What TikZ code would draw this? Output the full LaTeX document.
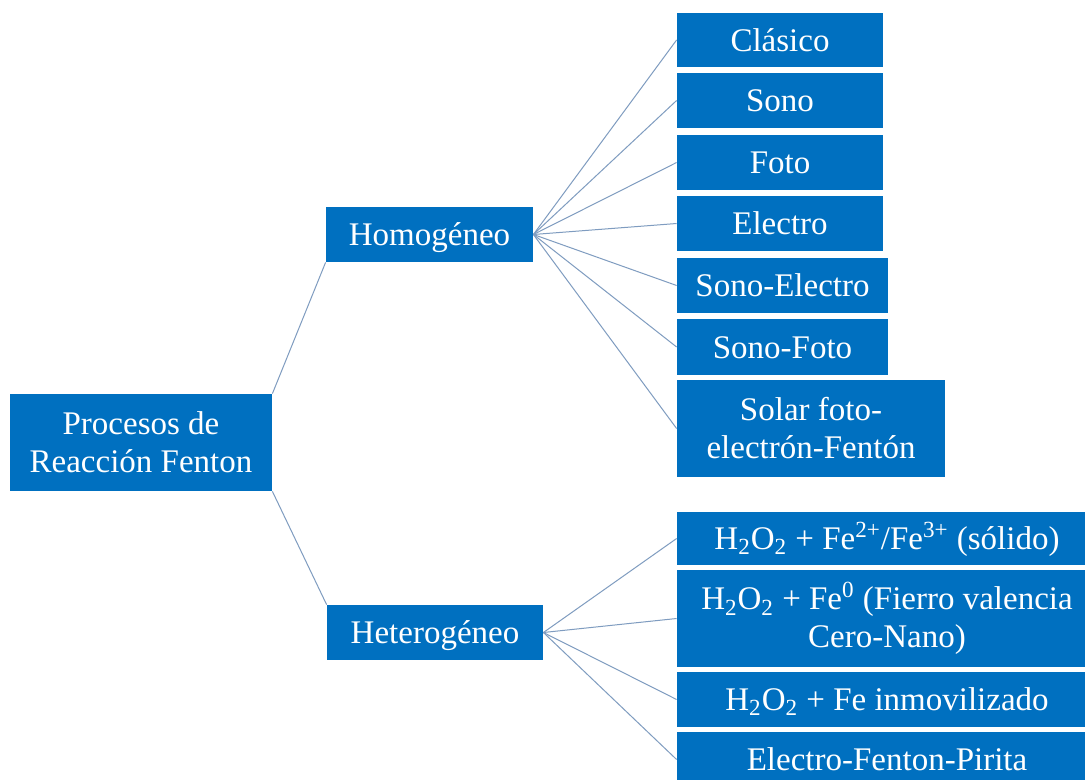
\documentclass[tikz,border=0pt]{standalone}
\usepackage{fontspec}
\setmainfont{Liberation Serif}
\definecolor{boxblue}{HTML}{0070C0}
\definecolor{linkblue}{HTML}{7F9CC0}
\begin{document}
\begin{tikzpicture}[x=0.5pt,y=-0.5pt,
  box/.style={fill=boxblue, text=white, inner sep=0pt, align=center,
    font=\fontsize{16.5}{19}\selectfont},
  oneline/.style={box, text height=11.2pt, text depth=0pt},
  link/.style={draw=linkblue, line width=0.5pt}]
\path[use as bounding box, clip] (0,0) rectangle (1085,780);
\fill[white] (0,0) rectangle (1085,780);
% level 0
\node[box, minimum width=131pt, minimum height=48.5pt] (root) at (141,442.5) {Procesos de\\Reacción Fenton};
% level 1
\node[oneline, minimum width=103.5pt, minimum height=27.5pt] (homo) at (429.5,234.5) {Homogéneo};
\node[oneline, minimum width=108pt, minimum height=27.5pt] (hete) at (435,632.5) {Heterogéneo};
% homogeneous children
\node[oneline, minimum width=103pt, minimum height=27pt] (c1) at (780,40) {Clásico};
\node[oneline, minimum width=103pt, minimum height=27.5pt] (c2) at (780,100.5) {Sono};
\node[oneline, minimum width=103pt, minimum height=27.5pt] (c3) at (780,162.5) {Foto};
\node[oneline, minimum width=103pt, minimum height=27.5pt] (c4) at (780,223.5) {Electro};
\node[oneline, minimum width=105.5pt, minimum height=27.5pt] (c5) at (782.5,285.5) {Sono-Electro};
\node[oneline, minimum width=105.5pt, minimum height=28pt] (c6) at (782.5,347) {Sono-Foto};
\node[box, minimum width=134pt, minimum height=48.5pt] (c7) at (811,428.5) {Solar foto-\\electrón-Fentón};
% heterogeneous children
\node[oneline, minimum width=210pt, minimum height=26.5pt] (d1) at (887,538.5) {H\textsubscript{2}O\textsubscript{2} + Fe\textsuperscript{2+}/Fe\textsuperscript{3+} (sólido)};
\node[box, minimum width=210pt, minimum height=48.5pt] (d2) at (887,618.5) {H\textsubscript{2}O\textsubscript{2} + Fe\textsuperscript{0} (Fierro valencia\\Cero-Nano)};
\node[oneline, minimum width=210pt, minimum height=27.5pt] (d3) at (887,699.5) {H\textsubscript{2}O\textsubscript{2} + Fe inmovilizado};
\node[oneline, minimum width=210pt, minimum height=27.5pt] (d4) at (887,759.5) {Electro-Fenton-Pirita};
% connectors
\draw[link] (root.north east) -- (homo.south west);
\draw[link] (root.south east) -- (hete.north west);
\foreach \c in {c1,c2,c3,c4,c5,c6,c7} \draw[link] (homo.east) -- (\c.west);
\foreach \d in {d1,d2,d3,d4} \draw[link] (hete.east) -- (\d.west);
\end{tikzpicture}
\end{document}
